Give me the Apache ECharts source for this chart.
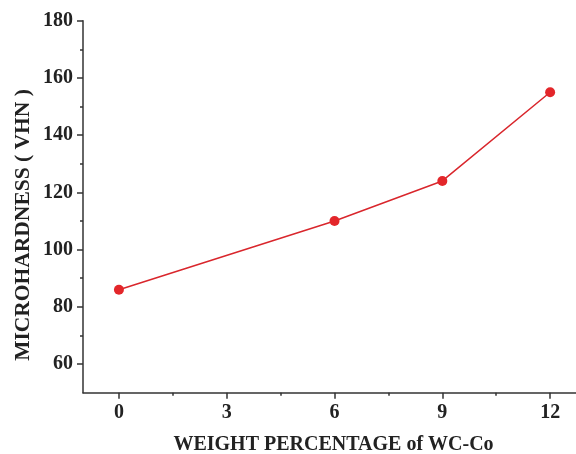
<!DOCTYPE html>
<html><head><meta charset="utf-8">
<script src="https://cdn.jsdelivr.net/npm/echarts@6/dist/echarts.min.js"></script>
<style>html,body{margin:0;padding:0;background:#fff}#c{width:576px;height:454px}</style>
</head><body><div id="c"></div>
<script>
const xValues = [0, 6, 9, 12];
const hardness = [86, 110, 124, 155];
const xMajorTicks = [0, 3, 6, 9, 12];
const xMinorTicks = [1.5, 4.5, 7.5, 10.5];
const yMajorTicks = [60, 80, 100, 120, 140, 160, 180];
const yMinorTicks = [70, 90, 110, 130, 150, 170];
const xTitle = 'WEIGHT PERCENTAGE of WC-Co';
const yTitle = 'MICROHARDNESS ( VHN )';
const font = 'Liberation Serif';
const axisColor = '#333';
const xRange = {min: -1, max: 12.72};
const yRange = {min: 50, max: 180};
const labelStyle = {fontFamily: font, fontWeight: 'bold', fontSize: 20, color: '#222'};

function majorAxis(range, ticks, margin) {
  return {
    type: 'value', min: range.min, max: range.max,
    axisLine: {show: true, onZero: false, lineStyle: {color: axisColor, width: 1.5}},
    axisTick: {show: true, length: 6, customValues: ticks, lineStyle: {color: axisColor, width: 1.5}},
    splitLine: {show: false},
    axisLabel: Object.assign({margin: margin, customValues: ticks}, labelStyle)
  };
}
function minorAxis(range, ticks) {
  return {
    type: 'value', min: range.min, max: range.max,
    axisLine: {show: false, onZero: false},
    axisTick: {show: true, length: 3, customValues: ticks, lineStyle: {color: axisColor, width: 1.5}},
    splitLine: {show: false},
    axisLabel: {show: false}
  };
}
const chart = echarts.init(document.getElementById('c'));
chart.setOption({
  animation: false,
  grid: {left: 83, right: 0, top: 20.7, bottom: 61.3, containLabel: false},
  xAxis: [
    Object.assign(majorAxis(xRange, xMajorTicks, 10), {position: 'bottom'}),
    Object.assign(minorAxis(xRange, xMinorTicks), {position: 'bottom'})
  ],
  yAxis: [
    Object.assign(majorAxis(yRange, yMajorTicks, 10), {position: 'left'}),
    Object.assign(minorAxis(yRange, yMinorTicks), {position: 'left'})
  ],
  graphic: [
    {type: 'text', x: 333.5, y: 445, style: {text: xTitle, font: 'bold 20px "Liberation Serif"', fill: '#222', align: 'center', verticalAlign: 'middle'}},
    {type: 'text', x: 23, y: 225, rotation: Math.PI / 2, style: {text: yTitle, font: 'bold 21.5px "Liberation Serif"', fill: '#222', align: 'center', verticalAlign: 'middle'}}
  ],
  series: [{
    type: 'line',
    xAxisIndex: 0, yAxisIndex: 0,
    data: xValues.map((x, i) => [x, hardness[i]]),
    symbol: 'circle', symbolSize: 10,
    lineStyle: {color: '#d9262c', width: 1.5},
    itemStyle: {color: '#e3262a'}
  }]
});
</script></body></html>
